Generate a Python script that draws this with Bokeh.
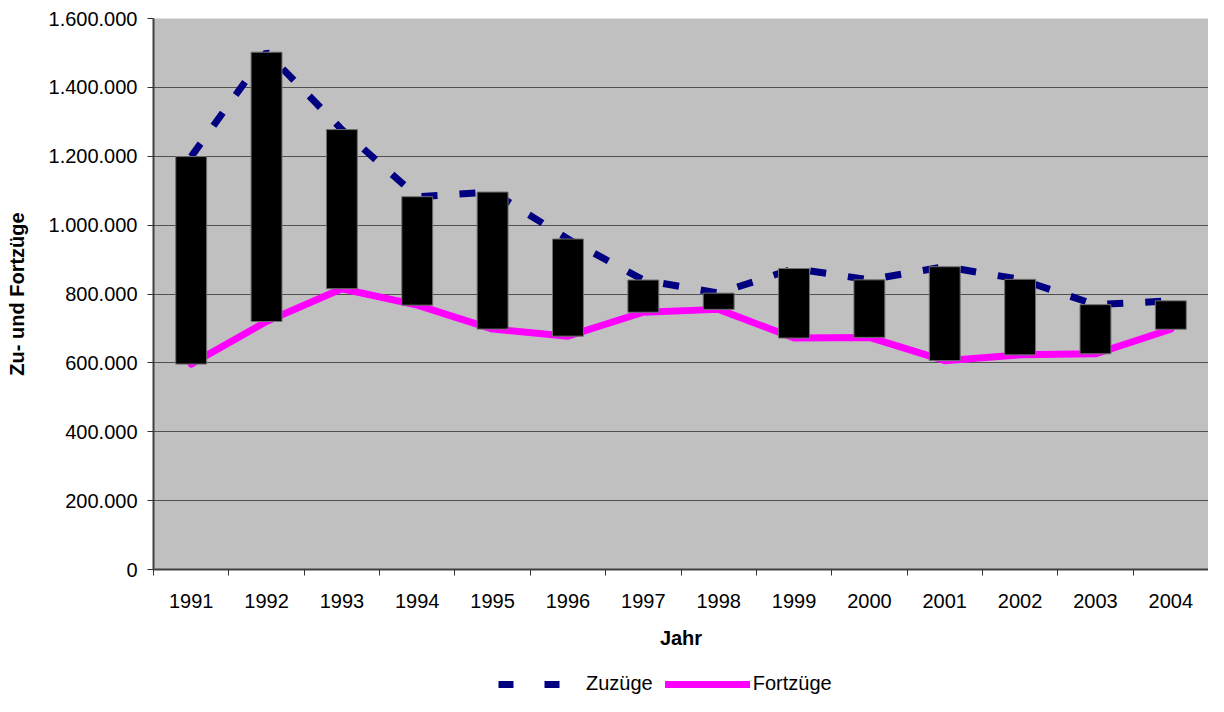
from bokeh.plotting import figure
from bokeh.layouts import column
from bokeh.models import FixedTicker, Legend, LegendItem, Range1d
from bokeh.embed import file_html
from bokeh.resources import INLINE

years = [1991, 1992, 1993, 1994, 1995, 1996, 1997, 1998, 1999, 2000, 2001, 2002, 2003, 2004]
zuzuege = [1198978, 1502198, 1277408, 1082553, 1096048, 959691, 840633,
           802456, 874023, 841158, 879217, 842543, 768975, 780175]
fortzuege = [596455, 720127, 815312, 767555, 698113, 677494, 746969,
             755358, 672048, 674038, 606494, 623255, 626330, 697632]
y_ticks = [0, 200000, 400000, 600000, 800000, 1000000, 1200000, 1400000, 1600000]
y_labels = {v: f"{v:,}".replace(",", ".") for v in y_ticks}
x_labels = {y: str(y) for y in years}
boundaries = [y - 0.5 for y in years] + [years[-1] + 0.5]
series_names = ["Zuzüge", "Fortzüge"]

FONT = "Liberation Sans"
ZU_STYLE = dict(line_color="#000080", line_width=7, line_dash="16 22")
FORT_STYLE = dict(line_color="#FF00FF", line_width=7, line_join="round", line_cap="round")

p = figure(width=1208, height=656, output_backend="svg", toolbar_location=None,
           x_range=Range1d(years[0] - 0.5, years[-1] + 0.5),
           y_range=Range1d(0, 1600000),
           min_border_left=153, min_border_right=0, min_border_top=18,
           min_border_bottom=87)
p.background_fill_color = "#C0C0C0"
p.border_fill_color = "white"
p.outline_line_color = None

# lines first (bars drawn over them)
p.line(years, zuzuege, **ZU_STYLE)
p.line(years, fortzuege, **FORT_STYLE)
p.vbar(x=years, bottom=fortzuege, top=zuzuege, width=0.41, fill_color="black",
       line_color="#707070", line_width=1)

# axes
p.xaxis.ticker = FixedTicker(ticks=years, minor_ticks=boundaries)
p.xaxis.major_label_overrides = x_labels
p.xaxis.major_tick_out = 0
p.xaxis.major_tick_in = 0
p.xaxis.minor_tick_out = 6
p.xaxis.minor_tick_in = 0
p.xaxis.minor_tick_line_color = "#333333"
p.xaxis.major_label_standoff = 18
p.xaxis.axis_label = "Jahr"
p.xaxis.axis_label_standoff = 16

p.yaxis.ticker = FixedTicker(ticks=y_ticks)
p.yaxis.major_label_overrides = y_labels
p.yaxis.major_tick_out = 6
p.yaxis.major_tick_in = 0
p.yaxis.minor_tick_out = 0
p.yaxis.minor_tick_in = 0
p.yaxis.major_label_standoff = 10
p.yaxis.axis_label = "Zu- und Fortzüge"
p.yaxis.axis_label_standoff = 18

for ax in (p.xaxis, p.yaxis):
    ax.axis_line_color = "#404040"
    ax.axis_line_width = 2
    ax.major_tick_line_color = "#333333"
    ax.major_label_text_font = FONT
    ax.major_label_text_font_size = "20px"
    ax.major_label_text_color = "black"
    ax.axis_label_text_font = FONT
    ax.axis_label_text_font_size = "20px"
    ax.axis_label_text_font_style = "bold"
    ax.axis_label_text_color = "black"

p.xgrid.grid_line_color = None
p.ygrid.grid_line_color = "#505050"
p.ygrid.grid_line_width = 1

# legend strip below the chart (its series lie outside its own ranges, only the key shows)
lg = figure(width=1208, height=40, output_backend="svg", toolbar_location=None,
            x_range=Range1d(0, 1), y_range=Range1d(0, 1),
            min_border=0, min_border_left=0, min_border_right=0,
            min_border_top=0, min_border_bottom=0)
lg.axis.visible = False
lg.grid.visible = False
lg.outline_line_color = None
lg.background_fill_color = "white"
lg.border_fill_color = "white"
zl = lg.line(years, zuzuege, line_color="#000080", line_width=7, line_dash="15 31")
fl = lg.line(years, fortzuege, **FORT_STYLE)

legend = Legend(items=[LegendItem(label=series_names[0], renderers=[zl]),
                       LegendItem(label=series_names[1], renderers=[fl])],
                orientation="horizontal", location=(345, 1),
                glyph_width=85, glyph_height=20, label_standoff=3, spacing=12,
                padding=0, margin=0, border_line_color=None,
                background_fill_alpha=0,
                label_text_font=FONT, label_text_font_size="20px",
                label_text_color="black")
lg.add_layout(legend, "center")

layout = column(p, lg, spacing=0)
open("out.html", "w").write(file_html(layout, INLINE))
